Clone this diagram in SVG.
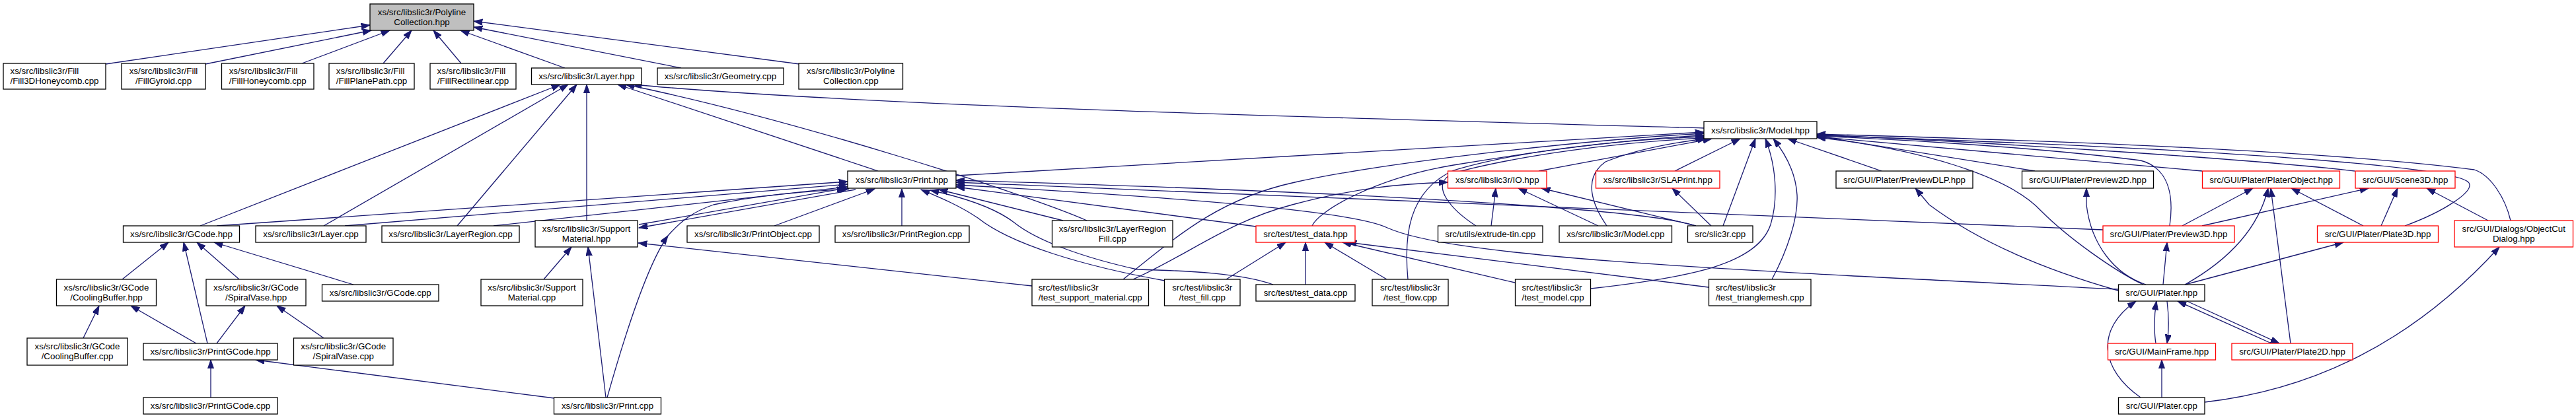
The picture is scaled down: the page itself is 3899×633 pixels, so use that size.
<svg xmlns="http://www.w3.org/2000/svg" width="3899" height="633" viewBox="0 0 3899 633">
<defs>
<style>
.n rect{fill:#fff;stroke:#000;stroke-width:1.3}
.n.r rect{stroke:#f00}
.n.g rect{fill:#bfbfbf}
.n text{font-family:"Liberation Sans",Arial,Helvetica,sans-serif;font-size:13.33px;fill:#000}
.m{text-anchor:middle}
#edges path{fill:none;stroke:#191970;stroke-width:1.3;marker-end:url(#a)}
</style>
<marker id="a" markerUnits="userSpaceOnUse" markerWidth="14" markerHeight="10" refX="13.3" refY="4.65" orient="auto">
<path d="M0,0 L13.3,4.65 L0,9.3 z" fill="#191970" stroke="#191970" stroke-width="1"/>
</marker>
</defs>
<rect width="3899" height="633" fill="#fff"/>
<g id="edges">
<path d="M160,97 L560,38"/>
<path d="M311,97 L562,46"/>
<path d="M457,96 L590,46"/>
<path d="M580,96 L623,46"/>
<path d="M698,96 L656,46"/>
<path d="M855,103 L697,46"/>
<path d="M1031,103 L717,41"/>
<path d="M1210,97 L717,32"/>
<path d="M303,342 L848,128"/>
<path d="M490,342 L860,128"/>
<path d="M692,342 L873,128"/>
<path d="M888,334 L888,128"/>
<path d="M1329,259 L935,128"/>
<path d="M1645,334 C1560,296 1200,180 947,128"/>
<path d="M2579,194 C2000,178 1300,160 958,128"/>
<path d="M1447,266 L2579,200"/>
<path d="M2329,259 L2591,210"/>
<path d="M2535,259 L2634,210"/>
<path d="M2608,342 L2657,210"/>
<path d="M2408,437 C2560,420 2660,400 2680,340 C2692,300 2688,250 2672,210"/>
<path d="M2682,423 C2705,380 2722,330 2720,295 C2718,260 2700,230 2684,210"/>
<path d="M2848,259 L2706,210"/>
<path d="M3080,259 L2750,206"/>
<path d="M3244,431 C3200,410 3130,360 3090,320 C3040,265 2900,225 2750,208"/>
<path d="M3800,334 C3792,300 3770,265 3745,257 C3500,225 3000,210 2750,203"/>
<path d="M3640,342 C3700,320 3745,290 3737,277 C3725,258 3500,230 2750,205"/>
<path d="M3564,259 C3400,240 3000,215 2750,204"/>
<path d="M3284,342 C3290,300 3285,255 3240,243 C3100,225 2900,212 2750,206"/>
<path d="M3333,259 L2750,207"/>
<path d="M1986,342 C1995,320 2080,270 2200,250 C2350,225 2480,210 2579,205"/>
<path d="M2131,423 C2125,360 2130,290 2200,258 C2300,228 2450,212 2579,207"/>
<path d="M2234,342 C2200,320 2160,280 2200,262 C2300,235 2450,215 2580,209"/>
<path d="M2432,342 C2410,310 2395,270 2430,245 C2480,225 2540,215 2583,210"/>
<path d="M1700,423 C1790,350 1850,300 1960,276 C2100,245 2400,212 2579,202"/>
<path d="M1715,423 C1800,385 1860,335 1956,310 C2050,285 2120,278 2191,276"/>
<path d="M2257,342 L2264,285"/>
<path d="M2419,342 L2298,285"/>
<path d="M2567,342 L2333,285"/>
<path d="M2590,342 L2531,285"/>
<path d="M328,342 L1283,275"/>
<path d="M522,342 L1283,279"/>
<path d="M747,342 L1283,283"/>
<path d="M1011,357 C1030,335 1050,320 1080,310 C1150,295 1220,290 1285,286"/>
<path d="M919,602 C945,510 980,400 1011,357"/>
<path d="M967,340 L1280,285"/>
<path d="M1295,287 L967,345"/>
<path d="M1172,342 L1324,286"/>
<path d="M1365,342 L1365,286"/>
<path d="M1763,425 C1640,403 1530,370 1480,330 C1450,310 1420,298 1394,287"/>
<path d="M1927,431 C1880,414 1800,410 1721,408 C1640,390 1570,365 1535,337 C1500,310 1440,295 1408,288"/>
<path d="M1609,334 L1421,287"/>
<path d="M1901,343 L1447,283"/>
<path d="M2566,342 C2500,318 2100,292 1447,273"/>
<path d="M3183,348 L1447,276"/>
<path d="M3206,438 C2600,408 2200,390 2100,345 C2050,320 1800,300 1447,280"/>
<path d="M823,423 L865,374"/>
<path d="M917,602 L890,374"/>
<path d="M1562,433 L966,368"/>
<path d="M1976,431 L1976,367"/>
<path d="M2099,423 L2005,367"/>
<path d="M2293,428 L2032,367"/>
<path d="M2586,435 L2040,367"/>
<path d="M1856,423 L1946,367"/>
<path d="M185,423 L255,367"/>
<path d="M314,520 L278,367"/>
<path d="M362,423 L298,367"/>
<path d="M535,431 L324,367"/>
<path d="M126,512 L150,463"/>
<path d="M297,520 L198,463"/>
<path d="M328,520 L371,463"/>
<path d="M490,512 L419,463"/>
<path d="M319,602 L319,545"/>
<path d="M839,603 L387,545"/>
<path d="M3248,431 C3200,415 3165,370 3158,310 L3158,285"/>
<path d="M3206,440 C3100,410 3000,370 2920,310 L2899,285"/>
<path d="M3274,431 L3280,367"/>
<path d="M3307,431 C3380,390 3420,340 3433,285"/>
<path d="M3307,431 L3547,367"/>
<path d="M3280,456 C3283,480 3283,500 3280,520"/>
<path d="M3263,520 C3260,500 3260,480 3264,456"/>
<path d="M3438,520 L3296,456"/>
<path d="M3310,456 L3450,520"/>
<path d="M3272,602 L3272,545"/>
<path d="M3240,602 C3180,560 3170,500 3233,456"/>
<path d="M3337,609 C3500,590 3650,520 3783,374"/>
<path d="M3303,342 L3410,285"/>
<path d="M3333,342 L3585,285"/>
<path d="M3467,520 L3437,285"/>
<path d="M3577,342 L3468,285"/>
<path d="M3604,342 L3629,285"/>
<path d="M3766,334 L3673,285"/>
</g>
<g id="n_top" class="n g"><rect x="560" y="6" width="157" height="40"/><text class="m" x="638.5" y="22.5">xs/src/libslic3r/Polyline</text><text class="m" x="638.5" y="37.5">Collection.hpp</text></g>
<g id="n_f3d" class="n"><rect x="5" y="96" width="155" height="39"/><text x="15.5" y="112">xs/src/libslic3r/Fill</text><text class="m" x="82.5" y="127">/Fill3DHoneycomb.cpp</text></g>
<g id="n_fgy" class="n"><rect x="184" y="96" width="127" height="39"/><text class="m" x="247.5" y="112">xs/src/libslic3r/Fill</text><text class="m" x="247.5" y="127">/FillGyroid.cpp</text></g>
<g id="n_fhc" class="n"><rect x="335.5" y="96" width="139.5" height="39"/><text x="346.7" y="112">xs/src/libslic3r/Fill</text><text class="m" x="405.25" y="127">/FillHoneycomb.cpp</text></g>
<g id="n_fpp" class="n"><rect x="498" y="96" width="129" height="39"/><text x="508.8" y="112">xs/src/libslic3r/Fill</text><text class="m" x="562.5" y="127">/FillPlanePath.cpp</text></g>
<g id="n_frl" class="n"><rect x="651" y="96" width="130" height="39"/><text x="661.6" y="112">xs/src/libslic3r/Fill</text><text class="m" x="716" y="127">/FillRectilinear.cpp</text></g>
<g id="n_layer" class="n"><rect x="804.5" y="103" width="166.5" height="25"/><text class="m" x="887.75" y="120">xs/src/libslic3r/Layer.hpp</text></g>
<g id="n_geom" class="n"><rect x="995" y="103" width="191" height="25"/><text class="m" x="1090.5" y="120">xs/src/libslic3r/Geometry.cpp</text></g>
<g id="n_pcc" class="n"><rect x="1209" y="96" width="157.5" height="39"/><text class="m" x="1287.75" y="112">xs/src/libslic3r/Polyline</text><text class="m" x="1287.75" y="127">Collection.cpp</text></g>
<g id="n_model" class="n"><rect x="2579" y="184" width="171" height="26"/><text class="m" x="2664.5" y="201.5">xs/src/libslic3r/Model.hpp</text></g>
<g id="n_print" class="n"><rect x="1283" y="259" width="164" height="26"/><text class="m" x="1365" y="276.5">xs/src/libslic3r/Print.hpp</text></g>
<g id="n_io" class="n r"><rect x="2191.5" y="259" width="149.5" height="26"/><text class="m" x="2266.25" y="276.5">xs/src/libslic3r/IO.hpp</text></g>
<g id="n_sla" class="n r"><rect x="2415.5" y="259" width="187.5" height="26"/><text class="m" x="2509.25" y="276.5">xs/src/libslic3r/SLAPrint.hpp</text></g>
<g id="n_pdlp" class="n"><rect x="2779" y="259" width="207" height="26"/><text class="m" x="2882.5" y="276.5">src/GUI/Plater/PreviewDLP.hpp</text></g>
<g id="n_p2d" class="n"><rect x="3060.5" y="259" width="199" height="26"/><text class="m" x="3160" y="276.5">src/GUI/Plater/Preview2D.hpp</text></g>
<g id="n_pobj" class="n r"><rect x="3333.5" y="259" width="208" height="26"/><text class="m" x="3437.5" y="276.5">src/GUI/Plater/PlaterObject.hpp</text></g>
<g id="n_scene" class="n r"><rect x="3565" y="259" width="151" height="26"/><text class="m" x="3640.5" y="276.5">src/GUI/Scene3D.hpp</text></g>
<g id="n_gcode" class="n"><rect x="186.5" y="342" width="176" height="25"/><text class="m" x="274.5" y="359">xs/src/libslic3r/GCode.hpp</text></g>
<g id="n_layercpp" class="n"><rect x="387" y="342" width="167" height="25"/><text class="m" x="470.5" y="359">xs/src/libslic3r/Layer.cpp</text></g>
<g id="n_lrcpp" class="n"><rect x="578" y="342" width="208" height="25"/><text class="m" x="682" y="359">xs/src/libslic3r/LayerRegion.cpp</text></g>
<g id="n_smh" class="n"><rect x="810" y="334" width="155" height="40"/><text class="m" x="887.5" y="350.5">xs/src/libslic3r/Support</text><text class="m" x="887.5" y="365.5">Material.hpp</text></g>
<g id="n_pobjcpp" class="n"><rect x="1040" y="342" width="200" height="25"/><text class="m" x="1140" y="359">xs/src/libslic3r/PrintObject.cpp</text></g>
<g id="n_preg" class="n"><rect x="1264" y="342" width="203" height="25"/><text class="m" x="1365.5" y="359">xs/src/libslic3r/PrintRegion.cpp</text></g>
<g id="n_lrf" class="n"><rect x="1592.5" y="334" width="182.5" height="40"/><text class="m" x="1683.75" y="350.5">xs/src/libslic3r/LayerRegion</text><text class="m" x="1683.75" y="365.5">Fill.cpp</text></g>
<g id="n_tdh" class="n r"><rect x="1901" y="342" width="150" height="25"/><text class="m" x="1976" y="359">src/test/test_data.hpp</text></g>
<g id="n_ext" class="n"><rect x="2176.5" y="342" width="158.5" height="25"/><text class="m" x="2255.75" y="359">src/utils/extrude-tin.cpp</text></g>
<g id="n_modelcpp" class="n"><rect x="2360" y="342" width="170.5" height="25"/><text class="m" x="2445.25" y="359">xs/src/libslic3r/Model.cpp</text></g>
<g id="n_slic3r" class="n"><rect x="2554.5" y="342" width="98.5" height="25"/><text class="m" x="2603.75" y="359">src/slic3r.cpp</text></g>
<g id="n_p3d" class="n r"><rect x="3183" y="342" width="199" height="25"/><text class="m" x="3282.5" y="359">src/GUI/Plater/Preview3D.hpp</text></g>
<g id="n_pl3d" class="n r"><rect x="3507.5" y="342" width="183" height="25"/><text class="m" x="3599" y="359">src/GUI/Plater/Plate3D.hpp</text></g>
<g id="n_ocd" class="n r"><rect x="3715" y="334" width="179.5" height="40"/><text class="m" x="3804.75" y="350.5">src/GUI/Dialogs/ObjectCut</text><text class="m" x="3804.75" y="365.5">Dialog.hpp</text></g>
<g id="n_cbh" class="n"><rect x="85.5" y="423" width="151" height="40"/><text class="m" x="161" y="439.5">xs/src/libslic3r/GCode</text><text class="m" x="161" y="454.5">/CoolingBuffer.hpp</text></g>
<g id="n_svh" class="n"><rect x="312" y="423" width="151" height="40"/><text class="m" x="387.5" y="439.5">xs/src/libslic3r/GCode</text><text class="m" x="387.5" y="454.5">/SpiralVase.hpp</text></g>
<g id="n_gcodecpp" class="n"><rect x="487.5" y="431" width="176.5" height="25"/><text class="m" x="575.75" y="448">xs/src/libslic3r/GCode.cpp</text></g>
<g id="n_smcpp" class="n"><rect x="728" y="423" width="154" height="40"/><text class="m" x="805" y="439.5">xs/src/libslic3r/Support</text><text class="m" x="805" y="454.5">Material.cpp</text></g>
<g id="n_tsm" class="n"><rect x="1562" y="423" width="176.5" height="40"/><text x="1571.7" y="439.5">src/test/libslic3r</text><text class="m" x="1650.25" y="454.5">/test_support_material.cpp</text></g>
<g id="n_tfill" class="n"><rect x="1762.5" y="423" width="114.5" height="40"/><text class="m" x="1819.75" y="439.5">src/test/libslic3r</text><text class="m" x="1819.75" y="454.5">/test_fill.cpp</text></g>
<g id="n_tdcpp" class="n"><rect x="1901" y="431" width="150" height="25"/><text class="m" x="1976" y="448">src/test/test_data.cpp</text></g>
<g id="n_tflow" class="n"><rect x="2077" y="423" width="115" height="40"/><text class="m" x="2134.5" y="439.5">src/test/libslic3r</text><text class="m" x="2134.5" y="454.5">/test_flow.cpp</text></g>
<g id="n_tmodel" class="n"><rect x="2293.5" y="423" width="114" height="40"/><text x="2303.4" y="439.5">src/test/libslic3r</text><text class="m" x="2350.5" y="454.5">/test_model.cpp</text></g>
<g id="n_ttm" class="n"><rect x="2586.5" y="423" width="154.5" height="40"/><text x="2596.7" y="439.5">src/test/libslic3r</text><text class="m" x="2663.75" y="454.5">/test_trianglemesh.cpp</text></g>
<g id="n_plater" class="n"><rect x="3206.5" y="431" width="130.5" height="25"/><text class="m" x="3271.75" y="448">src/GUI/Plater.hpp</text></g>
<g id="n_cbcpp" class="n"><rect x="41" y="512" width="152" height="41"/><text class="m" x="117" y="529">xs/src/libslic3r/GCode</text><text class="m" x="117" y="544">/CoolingBuffer.cpp</text></g>
<g id="n_pgh" class="n"><rect x="217" y="520" width="203" height="25"/><text class="m" x="318.5" y="537">xs/src/libslic3r/PrintGCode.hpp</text></g>
<g id="n_svcpp" class="n"><rect x="444.5" y="512" width="150.5" height="41"/><text class="m" x="519.75" y="529">xs/src/libslic3r/GCode</text><text class="m" x="519.75" y="544">/SpiralVase.cpp</text></g>
<g id="n_mainframe" class="n r"><rect x="3190.5" y="520" width="163" height="25"/><text class="m" x="3272" y="537">src/GUI/MainFrame.hpp</text></g>
<g id="n_pl2d" class="n r"><rect x="3378" y="520" width="183" height="25"/><text class="m" x="3469.5" y="537">src/GUI/Plater/Plate2D.hpp</text></g>
<g id="n_pgcpp" class="n"><rect x="217" y="602" width="203" height="25"/><text class="m" x="318.5" y="619">xs/src/libslic3r/PrintGCode.cpp</text></g>
<g id="n_printcpp" class="n"><rect x="838.5" y="602" width="162" height="25"/><text class="m" x="919.5" y="619">xs/src/libslic3r/Print.cpp</text></g>
<g id="n_platercpp" class="n"><rect x="3206.5" y="602" width="130.5" height="25"/><text class="m" x="3271.75" y="619">src/GUI/Plater.cpp</text></g>
</svg>
